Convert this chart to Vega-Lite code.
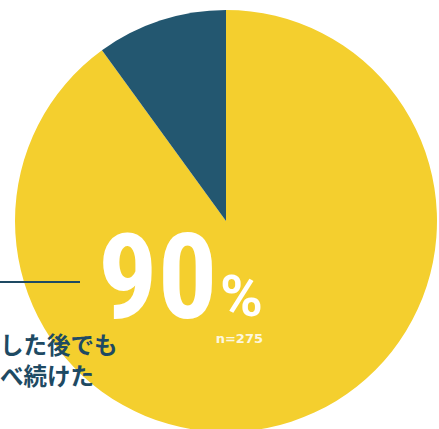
{
  "$schema": "https://vega.github.io/schema/vega-lite/v6.json",
  "width": 426,
  "height": 416,
  "autosize": {"type": "none"},
  "padding": {"left": 13, "top": 13, "right": 0, "bottom": 0},
  "background": "#ffffff",
  "config": {"view": {"stroke": null}},
  "data": {
    "values": [
      {"category": "食べ続けた", "value": 90},
      {"category": "やめた", "value": 10}
    ]
  },
  "layer": [
    {
      "mark": {"type": "arc", "radius": 211, "stroke": null},
      "encoding": {
        "theta": {"field": "value", "type": "quantitative", "stack": true},
        "order": {"field": "value", "sort": "descending"},
        "color": {
          "field": "category",
          "type": "nominal",
          "scale": {"domain": ["食べ続けた", "やめた"], "range": ["#F4CF2E", "#235770"]},
          "legend": null
        }
      }
    },
    {
      "transform": [{"filter": "datum.value == 90"}],
      "mark": {
        "type": "text",
        "align": "left",
        "baseline": "alphabetic",
        "dx": -128,
        "dy": 97,
        "fontSize": 118,
        "fontWeight": "bold",
        "font": "Noto Sans Condensed, Roboto Condensed, Open Sans Condensed, Liberation Sans Narrow, DejaVu Sans Condensed, Arial Narrow, Roboto",
        "color": "#ffffff"
      },
      "encoding": {"text": {"field": "value", "type": "quantitative"}}
    },
    {
      "transform": [{"filter": "datum.value == 90"}],
      "mark": {
        "type": "text",
        "align": "left",
        "baseline": "alphabetic",
        "dx": -6,
        "dy": 95,
        "fontSize": 58,
        "fontWeight": "bold",
        "font": "Roboto",
        "color": "#ffffff",
        "text": "%"
      },
      "encoding": {}
    },
    {
      "transform": [{"filter": "datum.value == 90"}],
      "mark": {
        "type": "text",
        "align": "right",
        "baseline": "alphabetic",
        "dx": 37,
        "dy": 122,
        "fontSize": 13,
        "fontWeight": "bold",
        "font": "DejaVu Sans",
        "color": "#ffffff",
        "opacity": 0.85,
        "text": "n=275"
      },
      "encoding": {}
    },
    {
      "transform": [{"filter": "datum.value == 90"}],
      "mark": {
        "type": "text",
        "align": "left",
        "baseline": "alphabetic",
        "dx": -226,
        "dy": 133,
        "fontSize": 23.5,
        "fontWeight": "bold",
        "lineHeight": 31,
        "font": "Noto Sans CJK JP",
        "color": "#1E4A63",
        "text": ["した後でも", "べ続けた"]
      },
      "encoding": {}
    },
    {
      "transform": [{"filter": "datum.value == 90"}],
      "mark": {"type": "rule", "color": "#1E4A63", "strokeWidth": 2},
      "encoding": {
        "x": {"value": -13},
        "x2": {"value": 67},
        "y": {"value": 269}
      }
    }
  ]
}
